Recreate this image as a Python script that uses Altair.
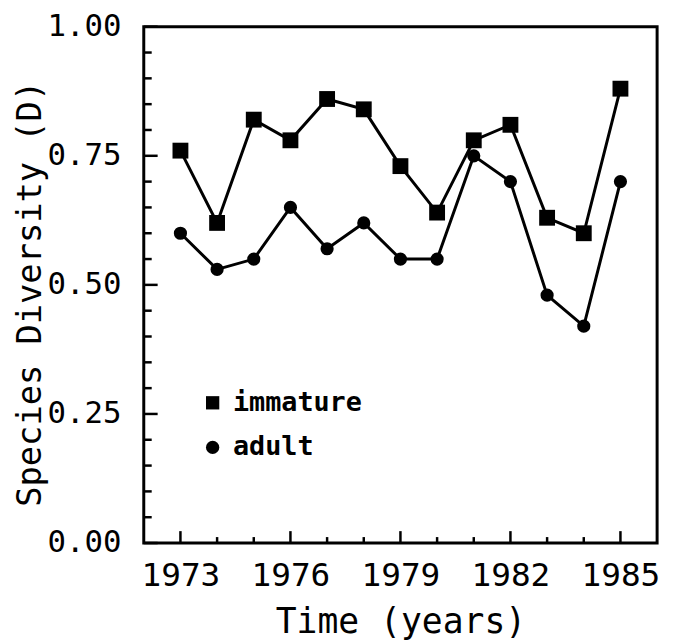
import altair as alt
import pandas as pd

# ---- data ----
years = list(range(1973, 1986))
immature = [0.76, 0.62, 0.82, 0.78, 0.86, 0.84, 0.73, 0.64, 0.78, 0.81, 0.63, 0.60, 0.88]
adult = [0.60, 0.53, 0.55, 0.65, 0.57, 0.62, 0.55, 0.55, 0.75, 0.70, 0.48, 0.42, 0.70]
series_names = ["immature", "adult"]
x_label_years = [1973, 1976, 1979, 1982, 1985]
y_label_values = [0.0, 0.25, 0.5, 0.75, 1.0]
y_minor_values = [round(i * 0.05, 2) for i in range(1, 20)]

rows = []
for name, vals in zip(series_names, [immature, adult]):
    for yr, v in zip(years, vals):
        rows.append({"year": yr, "value": v, "series": name})
df = pd.DataFrame(rows)

W, H = 518, 521
FONT = "DejaVu Sans Mono"

x_scale = alt.Scale(domain=[1972, 1986], nice=False, zero=False)
y_scale = alt.Scale(domain=[0, 1], nice=False)

x_axis = alt.Axis(
    values=x_label_years, format="d", title="Time (years)",
    ticks=False, tickSize=0, domain=False, grid=False,
    labelFont=FONT, labelFontSize=33, labelPadding=17, labelColor="black",
    titleFont=FONT, titleFontSize=35, titleFontWeight="normal", titleColor="black",
    titleY=90, titleBaseline="alphabetic", labelFlush=False,
)
y_axis = alt.Axis(
    values=y_label_values, format=".2f", title="Species Diversity (D)",
    ticks=False, tickSize=0, domain=False, grid=False,
    labelFont=FONT, labelFontSize=31, labelPadding=23, labelColor="black",
    titleFont=FONT, titleFontSize=34, titleFontWeight="normal", titleColor="black",
    titleX=-104, titleY=269, titleAngle=-90, titleAlign="center",
    titleBaseline="alphabetic", labelFlush=False,
)

X = alt.X("year:Q", scale=x_scale, axis=x_axis)
Y = alt.Y("value:Q", scale=y_scale, axis=y_axis)

legend = alt.Legend(
    title=None, orient="none", legendX=56, legendY=366,
    labelFont=FONT, labelFontSize=27, labelFontWeight="bold",
    labelColor="black", labelOffset=7, rowPadding=17, padding=0,
    symbolSize=180, symbolFillColor="black", symbolStrokeColor="black",
    symbolStrokeWidth=0, symbolOpacity=1,
)
shape_enc = alt.Shape(
    "series:N",
    scale=alt.Scale(domain=series_names, range=["square", "circle"]),
    legend=legend,
)

lines = alt.Chart(df).mark_line(color="black", strokeWidth=3).encode(
    x=X, y=Y, detail="series:N",
)

squares = alt.Chart(df).transform_filter(
    alt.datum.series == series_names[0]
).mark_point(filled=True, color="black", opacity=1, size=256).encode(
    x=X, y=Y, shape=shape_enc,
)
circles = alt.Chart(df).transform_filter(
    alt.datum.series == series_names[1]
).mark_point(filled=True, color="black", opacity=1, size=177).encode(
    x=X, y=Y, shape=shape_enc,
)

# inward tick marks
x_major_df = pd.DataFrame({"year": x_label_years})
x_minor_df = pd.DataFrame({"year": [y for y in years if y not in x_label_years]})
y_major_df = pd.DataFrame({"value": y_label_values})
y_minor_df = pd.DataFrame({"value": [v for v in y_minor_values if v not in y_label_values]})

x_major = alt.Chart(x_major_df).mark_rule(color="black", strokeWidth=2.5).encode(
    x=X, y=alt.value(H), y2=alt.value(H - 12),
)
x_minor = alt.Chart(x_minor_df).mark_rule(color="black", strokeWidth=2.5).encode(
    x=X, y=alt.value(H), y2=alt.value(H - 6),
)
y_major = alt.Chart(y_major_df).mark_rule(color="black", strokeWidth=2.5).encode(
    y=Y, x=alt.value(0), x2=alt.value(14),
)
y_minor = alt.Chart(y_minor_df).mark_rule(color="black", strokeWidth=2.5).encode(
    y=Y, x=alt.value(0), x2=alt.value(8),
)

chart = alt.layer(lines, x_major, x_minor, y_major, y_minor, squares, circles).properties(
    width=W, height=H,
    autosize=alt.AutoSizeParams(type="none"),
    padding={"left": 137, "top": 16, "right": 12, "bottom": 99},
    background="white",
).configure_view(
    stroke="black", strokeWidth=3,
)

chart.save("out.html", embed_options={"renderer": "svg", "actions": False})
